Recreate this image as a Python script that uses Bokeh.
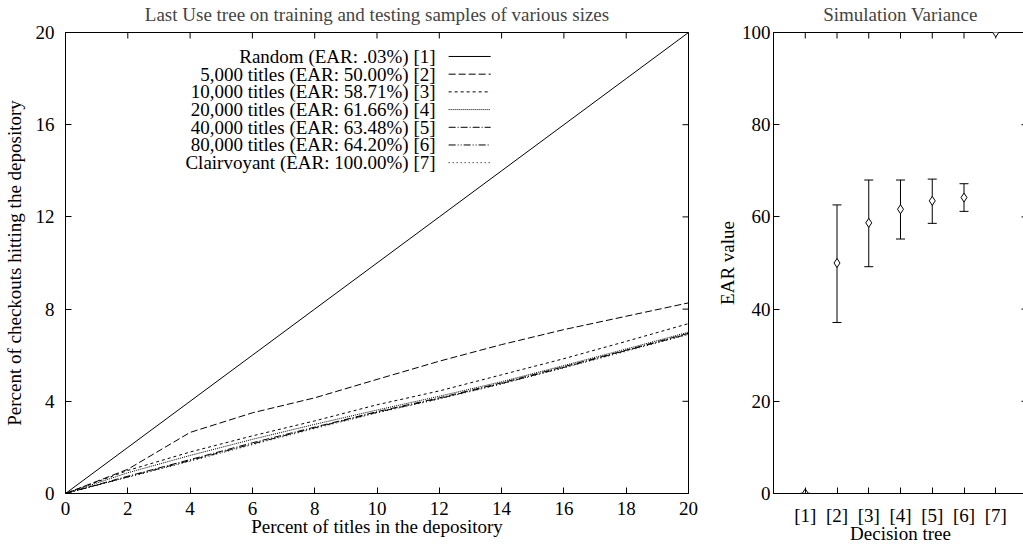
from bokeh.plotting import figure
from bokeh.layouts import row
from bokeh.models import (FixedTicker, Range1d, Label, Whisker,
                          ColumnDataSource, TeeHead)
from bokeh.embed import file_html
from bokeh.resources import INLINE

FONT = "Liberation Serif"
FS = "19px"

# ---------------- data ----------------
pct_titles = [0, 2, 4, 6, 8, 10, 12, 14, 16, 18, 20]
random_tree = [0, 2, 4, 6, 8, 10, 12, 14, 16, 18, 20]
titles_5k = [0, 1.05, 2.65, 3.50, 4.15, 4.95, 5.74, 6.46, 7.11, 7.69, 8.27]
titles_10k = [0, 1.00, 1.80, 2.50, 3.15, 3.85, 4.45, 5.15, 5.85, 6.60, 7.37]
titles_20k = [0, 0.90, 1.65, 2.35, 3.00, 3.62, 4.22, 4.85, 5.55, 6.27, 7.00]
titles_40k = [0, 0.75, 1.47, 2.20, 2.88, 3.55, 4.15, 4.80, 5.50, 6.22, 6.95]
titles_80k = [0, 0.72, 1.43, 2.15, 2.85, 3.52, 4.12, 4.77, 5.47, 6.20, 6.92]
clairvoyant = [0, 0.70, 1.40, 2.12, 2.82, 3.50, 4.10, 4.75, 5.45, 6.17, 6.90]
series_labels = ["Random (EAR: .03%) [1]", "5,000 titles (EAR: 50.00%) [2]",
                 "10,000 titles (EAR: 58.71%) [3]", "20,000 titles (EAR: 61.66%) [4]",
                 "40,000 titles (EAR: 63.48%) [5]", "80,000 titles (EAR: 64.20%) [6]",
                 "Clairvoyant (EAR: 100.00%) [7]"]
left_x_ticks = [0, 2, 4, 6, 8, 10, 12, 14, 16, 18, 20]
left_y_ticks = [0, 4, 8, 12, 16, 20]

trees = ["[1]", "[2]", "[3]", "[4]", "[5]", "[6]", "[7]"]
ear_mean = [0.03, 50.00, 58.71, 61.66, 63.48, 64.20, 100.00]
ear_low = [0.03, 37.1, 49.2, 55.2, 58.6, 61.2, 100.00]
ear_high = [0.03, 62.6, 68.0, 68.0, 68.2, 67.2, 100.00]
right_y_ticks = [0, 20, 40, 60, 80, 100]

all_series = [random_tree, titles_5k, titles_10k, titles_20k, titles_40k, titles_80k, clairvoyant]
dashes = ["solid", "7 3", "3 3", "1 1", "7 2 1 2", "7 2 1 2 1 2", "1 3"]

TICK = 6          # tick length in px (inward, gnuplot style)
FRAME_H = 461


def style_axis(ax):
    ax.major_tick_in = TICK
    ax.major_tick_out = 0
    ax.minor_tick_line_color = None
    ax.axis_line_color = "black"
    ax.major_tick_line_color = "black"
    ax.major_label_text_font = FONT
    ax.major_label_text_font_size = FS
    ax.major_label_text_color = "black"
    ax.axis_label_text_font = FONT
    ax.axis_label_text_font_size = FS
    ax.axis_label_text_font_style = "normal"
    ax.axis_label_text_color = "black"


def base_fig(frame_w, xr, yr, title, bl, br):
    p = figure(frame_width=frame_w, frame_height=FRAME_H, x_range=xr, y_range=yr,
               output_backend="svg", toolbar_location=None, title=title,
               min_border_left=bl, min_border_right=br, min_border_top=0,
               min_border_bottom=0)
    p.title.text_font = FONT
    p.title.text_font_size = FS
    p.title.text_font_style = "normal"
    p.title.align = "center"
    p.title.standoff = 16
    p.xgrid.visible = False
    p.ygrid.visible = False
    p.outline_line_color = "black"
    return p


def mirror_ticks(p, xticks, yticks, frame_w):
    """gnuplot-like mirrored ticks on the top and right borders."""
    x0, x1 = p.x_range.start, p.x_range.end
    y0, y1 = p.y_range.start, p.y_range.end
    dy = TICK * (y1 - y0) / FRAME_H
    dx = TICK * (x1 - x0) / frame_w
    p.segment(x0=xticks, x1=xticks, y0=[y1] * len(xticks), y1=[y1 - dy] * len(xticks),
              line_color="black", line_width=1)
    p.segment(x0=[x1] * len(yticks), x1=[x1 - dx] * len(yticks), y0=yticks, y1=yticks,
              line_color="black", line_width=1)


# ---------------- left plot ----------------
LW = 623
p1 = base_fig(LW, Range1d(0, 20), Range1d(0, 20),
              "Last Use tree on training and testing samples of various sizes", 59, 25)
for ax in (p1.xaxis[0], p1.yaxis[0]):
    style_axis(ax)
p1.xaxis.ticker = FixedTicker(ticks=left_x_ticks)
p1.yaxis.ticker = FixedTicker(ticks=left_y_ticks)
p1.xaxis.axis_label = "Percent of titles in the depository"
p1.yaxis.axis_label = "Percent of checkouts hitting the depository"
p1.xaxis.major_label_standoff = 8
p1.xaxis.axis_label_standoff = -2
p1.yaxis.major_label_standoff = 11
p1.yaxis.axis_label_standoff = 8
mirror_ticks(p1, left_x_ticks, left_y_ticks, LW)

for ys, dash in zip(all_series, dashes):
    p1.line(pct_titles, ys, line_color="black", line_width=1, line_dash=dash)

# legend (gnuplot style: text right-aligned, sample to the right)
leg_text_x = 11.88
leg_top_y = 18.96
leg_step = 0.768
leg_x0, leg_x1 = 12.3, 13.65
for i, (lab, dash) in enumerate(zip(series_labels, dashes)):
    yy = leg_top_y - i * leg_step
    p1.add_layout(Label(x=leg_text_x, y=yy, text=lab, text_align="right",
                        text_baseline="middle", text_font=FONT,
                        text_font_size=FS, text_color="black"))
    p1.line([leg_x0, leg_x1], [yy, yy], line_color="black", line_width=1,
            line_dash=dash)

# ---------------- right plot ----------------
RW = 254
p2 = base_fig(RW, Range1d(0, 8), Range1d(0, 100), "Simulation Variance", 58, 0)
for ax in (p2.xaxis[0], p2.yaxis[0]):
    style_axis(ax)
tree_pos = list(range(1, len(trees) + 1))
p2.xaxis.ticker = FixedTicker(ticks=tree_pos)
p2.xaxis.major_label_overrides = {k: v for k, v in zip(tree_pos, trees)}
p2.yaxis.ticker = FixedTicker(ticks=right_y_ticks)
p2.xaxis.axis_label = "Decision tree"
p2.yaxis.axis_label = "EAR value"
p2.xaxis.major_label_standoff = 11
p2.xaxis.axis_label_standoff = -6
p2.yaxis.major_label_standoff = 3
p2.yaxis.axis_label_standoff = 1
mirror_ticks(p2, tree_pos, right_y_ticks, RW)

src = ColumnDataSource(dict(x=tree_pos, mean=ear_mean, low=ear_low, high=ear_high))
wh = Whisker(source=src, base="x", lower="low", upper="high", line_color="black",
             line_width=1, level="underlay",
             upper_head=TeeHead(size=9, line_color="black", line_width=1),
             lower_head=TeeHead(size=9, line_color="black", line_width=1))
p2.add_layout(wh)
p2.scatter("x", "mean", source=src, marker="diamond", size=9, fill_color="white",
           line_color="black", line_width=1)

layout = row(p1, p2, styles={"margin-top": "-7px"})
open("out.html", "w").write(file_html(layout, INLINE))
